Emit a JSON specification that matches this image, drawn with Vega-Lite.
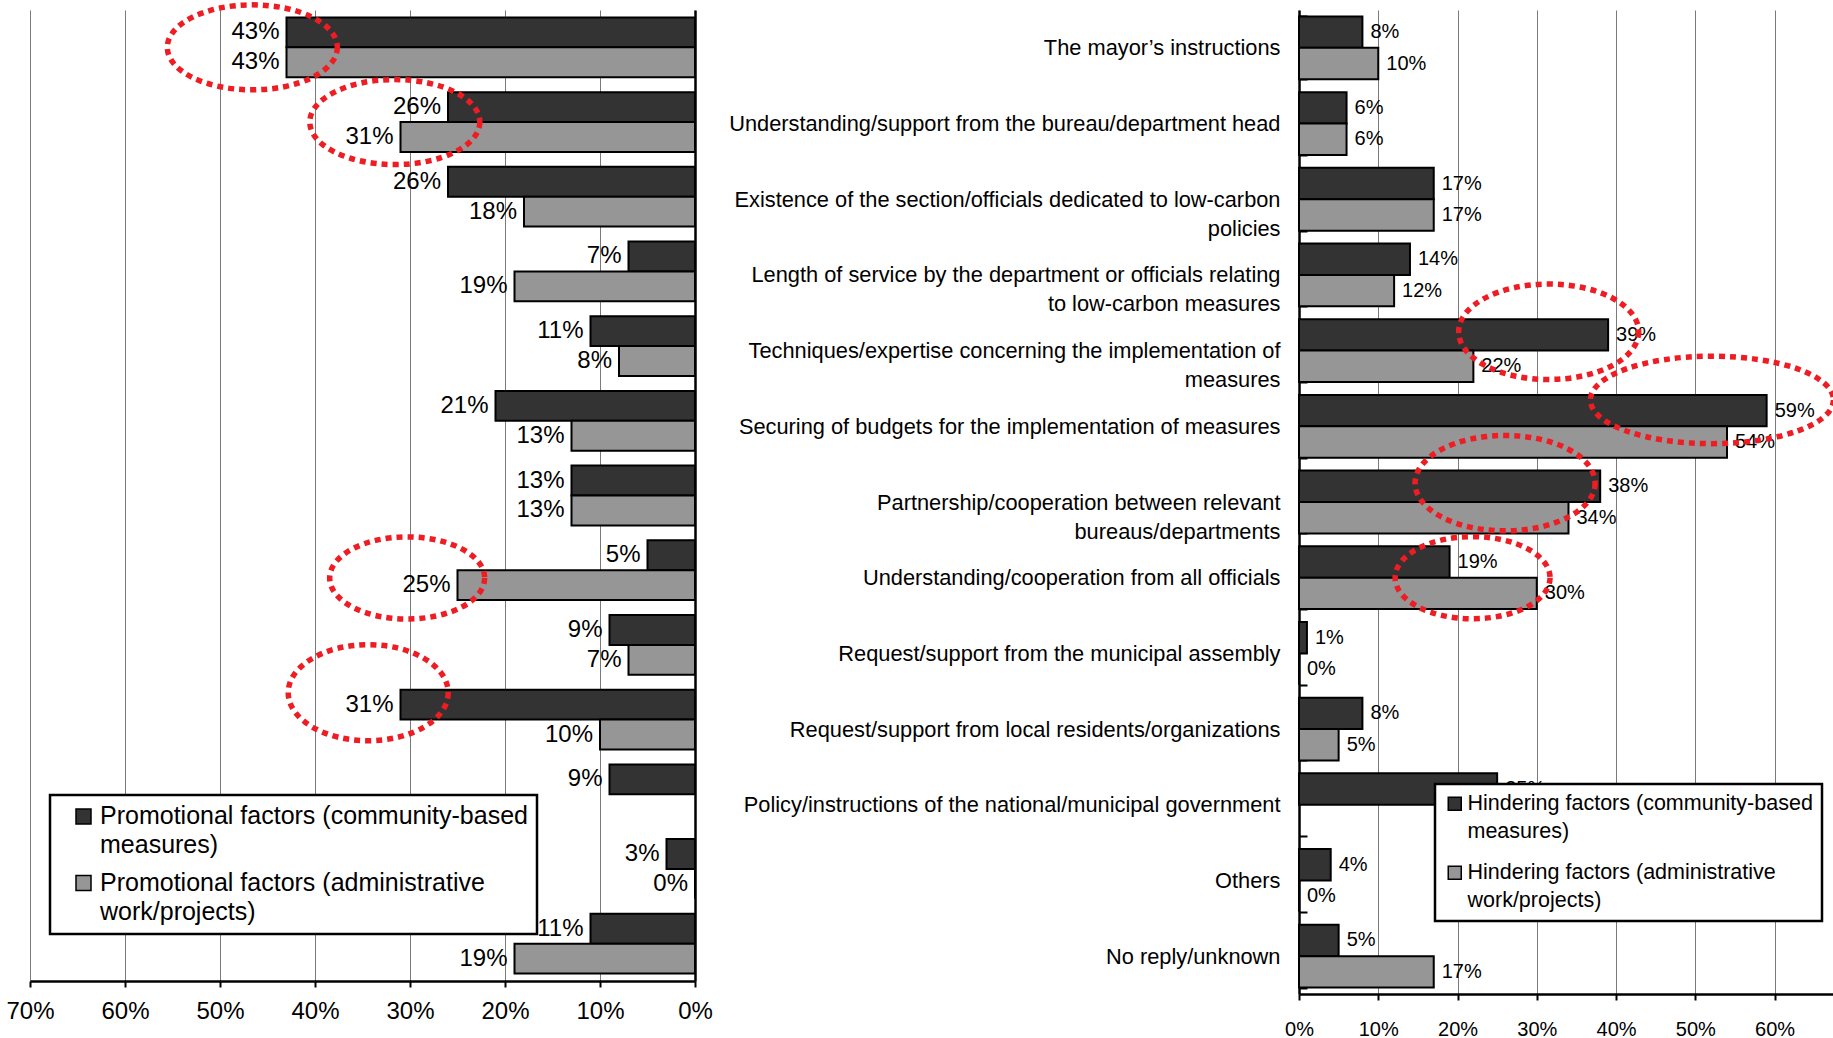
{
  "$schema": "https://vega.github.io/schema/vega-lite/v6.json",
  "background": "white",
  "autosize": {"type": "pad"},
  "padding": {"left": 5, "top": 0, "right": 0, "bottom": 0},
  "bounds": "flush",
  "spacing": 604,
  "datasets": {
    "shares": [
      {"item": "The mayor’s instructions", "factor": "promotional", "target": "community", "series": "Promotional factors (community-based measures)", "share": 0.43},
      {"item": "The mayor’s instructions", "factor": "promotional", "target": "admin", "series": "Promotional factors (administrative work/projects)", "share": 0.43},
      {"item": "Understanding/support from the bureau/department head", "factor": "promotional", "target": "community", "series": "Promotional factors (community-based measures)", "share": 0.26},
      {"item": "Understanding/support from the bureau/department head", "factor": "promotional", "target": "admin", "series": "Promotional factors (administrative work/projects)", "share": 0.31},
      {"item": "Existence of the section/officials dedicated to low-carbon policies", "factor": "promotional", "target": "community", "series": "Promotional factors (community-based measures)", "share": 0.26},
      {"item": "Existence of the section/officials dedicated to low-carbon policies", "factor": "promotional", "target": "admin", "series": "Promotional factors (administrative work/projects)", "share": 0.18},
      {"item": "Length of service by the department or officials relating to low-carbon measures", "factor": "promotional", "target": "community", "series": "Promotional factors (community-based measures)", "share": 0.07},
      {"item": "Length of service by the department or officials relating to low-carbon measures", "factor": "promotional", "target": "admin", "series": "Promotional factors (administrative work/projects)", "share": 0.19},
      {"item": "Techniques/expertise concerning the implementation of measures", "factor": "promotional", "target": "community", "series": "Promotional factors (community-based measures)", "share": 0.11},
      {"item": "Techniques/expertise concerning the implementation of measures", "factor": "promotional", "target": "admin", "series": "Promotional factors (administrative work/projects)", "share": 0.08},
      {"item": "Securing of budgets for the implementation of measures", "factor": "promotional", "target": "community", "series": "Promotional factors (community-based measures)", "share": 0.21},
      {"item": "Securing of budgets for the implementation of measures", "factor": "promotional", "target": "admin", "series": "Promotional factors (administrative work/projects)", "share": 0.13},
      {"item": "Partnership/cooperation between relevant bureaus/departments", "factor": "promotional", "target": "community", "series": "Promotional factors (community-based measures)", "share": 0.13},
      {"item": "Partnership/cooperation between relevant bureaus/departments", "factor": "promotional", "target": "admin", "series": "Promotional factors (administrative work/projects)", "share": 0.13},
      {"item": "Understanding/cooperation from all officials", "factor": "promotional", "target": "community", "series": "Promotional factors (community-based measures)", "share": 0.05},
      {"item": "Understanding/cooperation from all officials", "factor": "promotional", "target": "admin", "series": "Promotional factors (administrative work/projects)", "share": 0.25},
      {"item": "Request/support from the municipal assembly", "factor": "promotional", "target": "community", "series": "Promotional factors (community-based measures)", "share": 0.09},
      {"item": "Request/support from the municipal assembly", "factor": "promotional", "target": "admin", "series": "Promotional factors (administrative work/projects)", "share": 0.07},
      {"item": "Request/support from local residents/organizations", "factor": "promotional", "target": "community", "series": "Promotional factors (community-based measures)", "share": 0.31},
      {"item": "Request/support from local residents/organizations", "factor": "promotional", "target": "admin", "series": "Promotional factors (administrative work/projects)", "share": 0.10},
      {"item": "Policy/instructions of the national/municipal government", "factor": "promotional", "target": "community", "series": "Promotional factors (community-based measures)", "share": 0.09},
      {"item": "Others", "factor": "promotional", "target": "community", "series": "Promotional factors (community-based measures)", "share": 0.03},
      {"item": "Others", "factor": "promotional", "target": "admin", "series": "Promotional factors (administrative work/projects)", "share": 0.0},
      {"item": "No reply/unknown", "factor": "promotional", "target": "community", "series": "Promotional factors (community-based measures)", "share": 0.11},
      {"item": "No reply/unknown", "factor": "promotional", "target": "admin", "series": "Promotional factors (administrative work/projects)", "share": 0.19},

      {"item": "The mayor’s instructions", "factor": "hindering", "target": "community", "series": "Hindering factors (community-based measures)", "share": 0.08},
      {"item": "The mayor’s instructions", "factor": "hindering", "target": "admin", "series": "Hindering factors (administrative work/projects)", "share": 0.10},
      {"item": "Understanding/support from the bureau/department head", "factor": "hindering", "target": "community", "series": "Hindering factors (community-based measures)", "share": 0.06},
      {"item": "Understanding/support from the bureau/department head", "factor": "hindering", "target": "admin", "series": "Hindering factors (administrative work/projects)", "share": 0.06},
      {"item": "Existence of the section/officials dedicated to low-carbon policies", "factor": "hindering", "target": "community", "series": "Hindering factors (community-based measures)", "share": 0.17},
      {"item": "Existence of the section/officials dedicated to low-carbon policies", "factor": "hindering", "target": "admin", "series": "Hindering factors (administrative work/projects)", "share": 0.17},
      {"item": "Length of service by the department or officials relating to low-carbon measures", "factor": "hindering", "target": "community", "series": "Hindering factors (community-based measures)", "share": 0.14},
      {"item": "Length of service by the department or officials relating to low-carbon measures", "factor": "hindering", "target": "admin", "series": "Hindering factors (administrative work/projects)", "share": 0.12},
      {"item": "Techniques/expertise concerning the implementation of measures", "factor": "hindering", "target": "community", "series": "Hindering factors (community-based measures)", "share": 0.39},
      {"item": "Techniques/expertise concerning the implementation of measures", "factor": "hindering", "target": "admin", "series": "Hindering factors (administrative work/projects)", "share": 0.22},
      {"item": "Securing of budgets for the implementation of measures", "factor": "hindering", "target": "community", "series": "Hindering factors (community-based measures)", "share": 0.59},
      {"item": "Securing of budgets for the implementation of measures", "factor": "hindering", "target": "admin", "series": "Hindering factors (administrative work/projects)", "share": 0.54},
      {"item": "Partnership/cooperation between relevant bureaus/departments", "factor": "hindering", "target": "community", "series": "Hindering factors (community-based measures)", "share": 0.38},
      {"item": "Partnership/cooperation between relevant bureaus/departments", "factor": "hindering", "target": "admin", "series": "Hindering factors (administrative work/projects)", "share": 0.34},
      {"item": "Understanding/cooperation from all officials", "factor": "hindering", "target": "community", "series": "Hindering factors (community-based measures)", "share": 0.19},
      {"item": "Understanding/cooperation from all officials", "factor": "hindering", "target": "admin", "series": "Hindering factors (administrative work/projects)", "share": 0.30},
      {"item": "Request/support from the municipal assembly", "factor": "hindering", "target": "community", "series": "Hindering factors (community-based measures)", "share": 0.01},
      {"item": "Request/support from the municipal assembly", "factor": "hindering", "target": "admin", "series": "Hindering factors (administrative work/projects)", "share": 0.0},
      {"item": "Request/support from local residents/organizations", "factor": "hindering", "target": "community", "series": "Hindering factors (community-based measures)", "share": 0.08},
      {"item": "Request/support from local residents/organizations", "factor": "hindering", "target": "admin", "series": "Hindering factors (administrative work/projects)", "share": 0.05},
      {"item": "Policy/instructions of the national/municipal government", "factor": "hindering", "target": "community", "series": "Hindering factors (community-based measures)", "share": 0.25},
      {"item": "Others", "factor": "hindering", "target": "community", "series": "Hindering factors (community-based measures)", "share": 0.04},
      {"item": "Others", "factor": "hindering", "target": "admin", "series": "Hindering factors (administrative work/projects)", "share": 0.0},
      {"item": "No reply/unknown", "factor": "hindering", "target": "community", "series": "Hindering factors (community-based measures)", "share": 0.05},
      {"item": "No reply/unknown", "factor": "hindering", "target": "admin", "series": "Hindering factors (administrative work/projects)", "share": 0.17}
    ],
    "callouts": [
      {"item": "The mayor’s instructions", "factor": "promotional", "target": "both", "at": 0.466},
      {"item": "Understanding/support from the bureau/department head", "factor": "promotional", "target": "both", "at": 0.316},
      {"item": "Understanding/cooperation from all officials", "factor": "promotional", "target": "admin", "at": 0.303},
      {"item": "Request/support from local residents/organizations", "factor": "promotional", "target": "community", "at": 0.344},
      {"item": "Techniques/expertise concerning the implementation of measures", "factor": "hindering", "target": "community", "at": 0.315},
      {"item": "Securing of budgets for the implementation of measures", "factor": "hindering", "target": "both", "at": 0.521},
      {"item": "Partnership/cooperation between relevant bureaus/departments", "factor": "hindering", "target": "community", "at": 0.26},
      {"item": "Understanding/cooperation from all officials", "factor": "hindering", "target": "both", "at": 0.219}
    ]
  },
  "hconcat": [
    {
      "width": 665,
      "height": 971,
      "layer": [
        {
          "data": {"name": "shares"},
          "transform": [{"filter": "datum.factor === 'promotional'"}],
          "mark": {"type": "bar", "stroke": "black", "strokeWidth": 2},
          "encoding": {
            "y": {"field": "item", "type": "nominal", "sort": null,
                  "scale": {"paddingInner": 0.2, "paddingOuter": 0.1},
                  "axis": {"orient": "right", "title": null, "labels": false, "ticks": false, "domainColor": "black", "domainWidth": 2.5}},
            "yOffset": {"field": "target", "type": "nominal", "sort": ["community", "admin"]},
            "x": {"field": "share", "type": "quantitative",
                  "scale": {"domain": [0, 0.7], "reverse": true, "nice": false},
                  "axis": {"values": [0, 0.1, 0.2, 0.3, 0.4, 0.5, 0.6, 0.7], "format": ".0%", "title": null, "grid": true,
                           "gridColor": "#7a7a7a", "gridWidth": 1, "labelFontSize": 24, "labelPadding": 12,
                           "tickSize": 6, "tickWidth": 2, "domainWidth": 2.5, "labelFlush": false}},
            "color": {"field": "series", "type": "nominal",
                      "scale": {"domain": ["Promotional factors (community-based measures)", "Promotional factors (administrative work/projects)"], "range": ["#333333", "#969696"]},
                      "legend": {"orient": "none", "legendX": 20, "legendY": 785, "title": null,
                                 "labelFontSize": 25, "labelLimit": 1000, "labelColor": "black",
                                 "labelExpr": "split(replace(replace(datum.label, ' measures)', '\\nmeasures)'), ' work/', '\\nwork/'), '\\n')",
                                 "labelBaseline": "top", "labelOffset": 4,
                                 "symbolType": "square", "symbolSize": 225, "symbolStrokeColor": "black", "symbolStrokeWidth": 1.5,
                                 "symbolOffset": 12, "padding": 9, "rowPadding": 12.5,
                                 "fillColor": "white", "strokeColor": "black",
                                 "encode": {"legend": {"update": {"strokeWidth": {"value": 2.5}}},
                                            "labels": {"update": {"lineHeight": {"value": 29}, "dy": {"value": -12.5}}}}}}
          }
        },
        {
          "data": {"name": "shares"},
          "transform": [{"filter": "datum.factor === 'promotional'"}],
          "mark": {"type": "text", "align": "right", "baseline": "middle", "dx": -7, "fontSize": 24, "color": "black"},
          "encoding": {
            "y": {"field": "item", "type": "nominal", "sort": null},
            "yOffset": {"field": "target", "type": "nominal", "sort": ["community", "admin"]},
            "x": {"field": "share", "type": "quantitative"},
            "text": {"field": "share", "type": "quantitative", "format": ".0%"}
          }
        },
        {
          "data": {"name": "callouts"},
          "transform": [{"filter": "datum.factor === 'promotional' && datum.target === 'both'"}],
          "mark": {"type": "point", "filled": false, "stroke": "#ee1d23", "strokeWidth": 5.5, "strokeDash": [6, 5], "strokeJoin": "round", "opacity": 1, "size": 28900,
                   "shape": "M1,0C1,0.276,0.552,0.5,0,0.5C-0.552,0.5,-1,0.276,-1,0C-1,-0.276,-0.552,-0.5,0,-0.5C0.552,-0.5,1,-0.276,1,0Z"},
          "encoding": {
            "y": {"field": "item", "type": "nominal", "sort": null},
            "x": {"field": "at", "type": "quantitative"}
          }
        },
        {
          "data": {"name": "callouts"},
          "transform": [{"filter": "datum.factor === 'promotional' && datum.target === 'admin'"}],
          "mark": {"type": "point", "filled": false, "stroke": "#ee1d23", "strokeWidth": 5.5, "strokeDash": [6, 5], "strokeJoin": "round", "opacity": 1, "size": 24000,
                   "shape": "M1,0C1,0.293,0.552,0.53,0,0.53C-0.552,0.53,-1,0.293,-1,0C-1,-0.293,-0.552,-0.53,0,-0.53C0.552,-0.53,1,-0.293,1,0Z"},
          "encoding": {
            "y": {"field": "item", "type": "nominal", "sort": null, "bandPosition": 0.63},
            "x": {"field": "at", "type": "quantitative"}
          }
        },
        {
          "data": {"name": "callouts"},
          "transform": [{"filter": "datum.factor === 'promotional' && datum.target === 'community'"}],
          "mark": {"type": "point", "filled": false, "stroke": "#ee1d23", "strokeWidth": 5.5, "strokeDash": [6, 5], "strokeJoin": "round", "opacity": 1, "size": 25600,
                   "shape": "M1,0C1,0.33,0.552,0.6,0,0.6C-0.552,0.6,-1,0.33,-1,0C-1,-0.33,-0.552,-0.6,0,-0.6C0.552,-0.6,1,-0.33,1,0Z"},
          "encoding": {
            "y": {"field": "item", "type": "nominal", "sort": null, "bandPosition": 0.05},
            "x": {"field": "at", "type": "quantitative"}
          }
        }
      ]
    },
    {
      "width": 535,
      "height": 984,
      "layer": [
        {
          "data": {"name": "shares"},
          "transform": [{"filter": "datum.factor === 'hindering'"}],
          "mark": {"type": "bar", "stroke": "black", "strokeWidth": 2},
          "encoding": {
            "y": {"field": "item", "type": "nominal", "sort": null,
                  "scale": {"paddingInner": 0.17, "paddingOuter": 0.085},
                  "axis": {"orient": "left", "title": null, "labelFontSize": 21.8, "labelLineHeight": 29, "labelLimit": 1000,
                           "labelColor": "black", "labelPadding": 27,
                           "labelExpr": "length(datum.label) > 58 ? split(replace(replace(replace(replace(datum.label, ' policies', '\\npolicies'), ' to low-carbon measures', '\\nto low-carbon measures'), 'concerning the implementation of measures', 'concerning the implementation of\\nmeasures'), ' bureaus/', '\\nbureaus/'), '\\n') : datum.label",
                           "encode": {"labels": {"update": {"dy": {"signal": "length(datum.value) > 58 ? -14.5 : 0"}}}},
                           "ticks": true, "tickBand": "extent", "tickSize": -8, "tickWidth": 2, "tickColor": "black",
                           "domainColor": "black", "domainWidth": 2.5}},
            "yOffset": {"field": "target", "type": "nominal", "sort": ["community", "admin"]},
            "x": {"field": "share", "type": "quantitative",
                  "scale": {"domain": [0, 0.675], "nice": false},
                  "axis": {"values": [0, 0.1, 0.2, 0.3, 0.4, 0.5, 0.6], "format": ".0%", "title": null, "grid": true,
                           "gridColor": "#7a7a7a", "gridWidth": 1, "labelFontSize": 20, "labelPadding": 19,
                           "tickSize": 6, "tickWidth": 2, "domainWidth": 2.5, "labelFlush": false}},
            "color": {"field": "series", "type": "nominal",
                      "scale": {"domain": ["Hindering factors (community-based measures)", "Hindering factors (administrative work/projects)"], "range": ["#333333", "#969696"]},
                      "legend": {"orient": "none", "legendX": 136, "legendY": 774, "title": null,
                                 "labelFontSize": 21.5, "labelLimit": 1000, "labelColor": "black",
                                 "labelExpr": "split(replace(replace(datum.label, ' measures)', '\\nmeasures)'), ' work/', '\\nwork/'), '\\n')",
                                 "labelBaseline": "top", "labelOffset": 2,
                                 "symbolType": "square", "symbolSize": 169, "symbolStrokeColor": "black", "symbolStrokeWidth": 1.5,
                                 "symbolOffset": 0, "padding": 9, "rowPadding": 19,
                                 "fillColor": "white", "strokeColor": "black",
                                 "encode": {"legend": {"update": {"strokeWidth": {"value": 2.5}}},
                                            "labels": {"update": {"lineHeight": {"value": 28}, "dy": {"value": -10.5}}}}}}
          }
        },
        {
          "data": {"name": "shares"},
          "transform": [{"filter": "datum.factor === 'hindering'"}],
          "mark": {"type": "text", "align": "left", "baseline": "middle", "dx": 8, "fontSize": 20, "color": "black"},
          "encoding": {
            "y": {"field": "item", "type": "nominal", "sort": null},
            "yOffset": {"field": "target", "type": "nominal", "sort": ["community", "admin"]},
            "x": {"field": "share", "type": "quantitative"},
            "text": {"field": "share", "type": "quantitative", "format": ".0%"}
          }
        },
        {
          "data": {"name": "callouts"},
          "transform": [{"filter": "datum.factor === 'hindering' && datum.target === 'both' && datum.item !== 'Securing of budgets for the implementation of measures'"}],
          "mark": {"type": "point", "filled": false, "stroke": "#ee1d23", "strokeWidth": 5.5, "strokeDash": [6, 5], "strokeJoin": "round", "opacity": 1, "size": 24000,
                   "shape": "M1,0C1,0.293,0.552,0.53,0,0.53C-0.552,0.53,-1,0.293,-1,0C-1,-0.293,-0.552,-0.53,0,-0.53C0.552,-0.53,1,-0.293,1,0Z"},
          "encoding": {
            "y": {"field": "item", "type": "nominal", "sort": null},
            "x": {"field": "at", "type": "quantitative"}
          }
        },
        {
          "data": {"name": "callouts"},
          "transform": [{"filter": "datum.factor === 'hindering' && datum.target === 'community'"}],
          "mark": {"type": "point", "filled": false, "stroke": "#ee1d23", "strokeWidth": 5.5, "strokeDash": [6, 5], "strokeJoin": "round", "opacity": 1, "size": 32400,
                   "shape": "M1,0C1,0.293,0.552,0.53,0,0.53C-0.552,0.53,-1,0.293,-1,0C-1,-0.293,-0.552,-0.53,0,-0.53C0.552,-0.53,1,-0.293,1,0Z"},
          "encoding": {
            "y": {"field": "item", "type": "nominal", "sort": null, "bandPosition": 0.2},
            "x": {"field": "at", "type": "quantitative"}
          }
        },
        {
          "data": {"name": "callouts"},
          "transform": [{"filter": "datum.factor === 'hindering' && datum.item === 'Securing of budgets for the implementation of measures'"}],
          "mark": {"type": "point", "filled": false, "stroke": "#ee1d23", "strokeWidth": 5.5, "strokeDash": [6, 5], "strokeJoin": "round", "opacity": 1, "size": 59049,
                   "shape": "M1,0C1,0.199,0.552,0.36,0,0.36C-0.552,0.36,-1,0.199,-1,0C-1,-0.199,-0.552,-0.36,0,-0.36C0.552,-0.36,1,-0.199,1,0Z"},
          "encoding": {
            "y": {"field": "item", "type": "nominal", "sort": null, "bandPosition": 0.08},
            "x": {"field": "at", "type": "quantitative"}
          }
        }
      ]
    }
  ],
  "resolve": {"scale": {"color": "independent", "x": "independent", "y": "independent", "yOffset": "independent"}},
  "config": {
    "font": "Liberation Sans",
    "view": {"stroke": null},
    "axis": {"labelColor": "black", "domainColor": "black", "tickColor": "black", "labelFont": "Liberation Sans"},
    "legend": {"labelFont": "Liberation Sans"},
    "text": {"font": "Liberation Sans"}
  }
}
